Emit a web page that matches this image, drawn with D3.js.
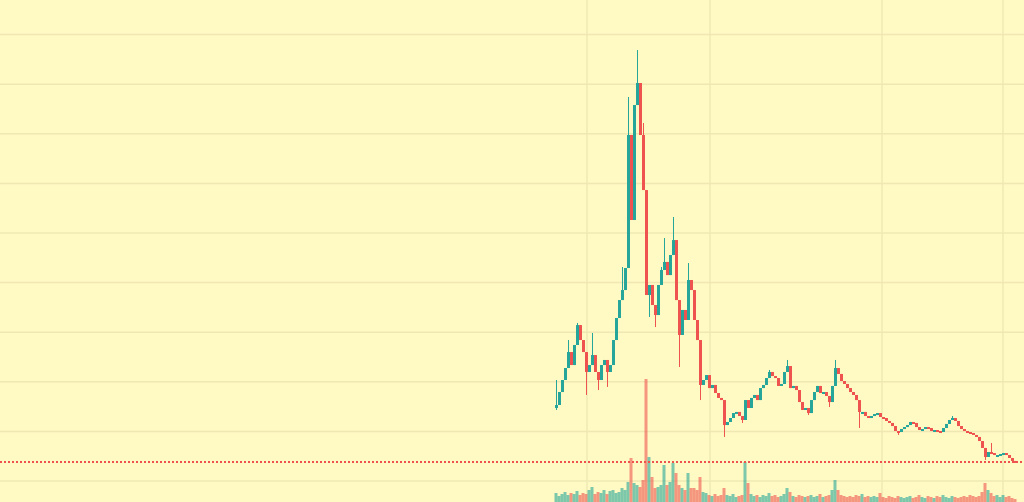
<!DOCTYPE html>
<html>
<head>
<meta charset="utf-8">
<script src="https://cdn.jsdelivr.net/npm/d3@7"></script>
<style>
  html, body { margin: 0; padding: 0; background: #fff9c4; overflow: hidden; }
  #chart { width: 1024px; height: 502px; }
</style>
</head>
<body>
<div id="chart"></div>
<script>
// Daily candles, close prices (open = previous close)
const firstOpen = 0.736;
const closes = [
  0.766, 0.897, 1.018, 1.139, 1.300, 1.169, 1.371, 1.572, 1.421, 1.300,
  1.099, 1.169, 1.270, 1.099, 1.018, 1.169, 1.220, 1.099, 1.169, 1.421,
  1.643, 1.824, 1.925, 2.147, 3.488, 2.631, 3.790, 4.012, 3.488, 2.933,
  1.875, 1.976, 1.774, 1.673, 1.976, 2.127, 2.208, 2.076, 2.278, 2.429,
  1.824, 1.472, 1.724, 1.623, 2.026, 1.925, 1.623, 1.421, 0.968, 1.018,
  1.068, 0.937, 0.968, 0.887, 0.837, 0.816, 0.564, 0.595, 0.635, 0.685,
  0.696, 0.655, 0.615, 0.816, 0.736, 0.837, 0.867, 0.816, 0.937, 0.968,
  1.038, 1.099, 1.058, 1.038, 0.958, 0.978, 1.099, 1.159, 0.937, 0.958,
  0.917, 0.796, 0.716, 0.736, 0.685, 0.816, 0.897, 0.958, 0.887, 0.897,
  0.857, 0.796, 0.958, 1.139, 1.079, 1.008, 0.978, 0.937, 0.897, 0.867,
  0.816, 0.696, 0.696, 0.655, 0.645, 0.655, 0.675, 0.685, 0.645, 0.635,
  0.605, 0.585, 0.554, 0.504, 0.494, 0.524, 0.544, 0.564, 0.595, 0.585,
  0.544, 0.514, 0.524, 0.544, 0.534, 0.504, 0.514, 0.504, 0.494, 0.534,
  0.575, 0.615, 0.635, 0.605, 0.554, 0.524, 0.504, 0.494, 0.484, 0.464,
  0.444, 0.403, 0.333, 0.242, 0.292, 0.282, 0.262, 0.262, 0.272, 0.282,
  0.262, 0.232, 0.202, 0.192
];

// wick extremes that stick out of the body: [index, high, low]
const wicks = [
  [0, 1.018, 0.716], [4, 1.421, null], [7, 1.593, null], [10, null, 0.867],
  [12, 1.492, null], [14, null, 0.917], [17, null, 0.948], [22, 2.157, null],
  [24, 3.871, null], [27, 4.344, null], [29, 3.609, null], [31, null, 1.653],
  [33, null, 1.552], [35, 2.157, null], [36, 2.449, null], [39, 2.661, null],
  [41, null, 1.149], [44, 2.197, null], [48, null, 0.816], [56, null, 0.444],
  [62, null, 0.585], [71, 1.119, null], [77, 1.220, null], [84, null, 0.665],
  [91, null, 0.746], [93, 1.220, null], [101, null, 0.534], [114, null, 0.464],
  [132, 0.655, null], [143, null, 0.212], [145, 0.383, null]
];

// volume (thousands)
const volumes = [
  9, 6, 8, 10, 7, 9, 8, 11, 7, 9, 8, 12,
  15,
  8, 10, 9, 12, 8, 11,
  12, 9, 10, 14, 12,
  20, 44, 19, 17, 15, 22, 123, 45,
  25, 14, 15, 17, 37, 17, 20, 39, 29, 17, 14, 12, 29, 14, 14, 12, 25,
  10, 9, 7, 6, 8, 6, 7,
  14, 7, 6, 8, 5, 6, 7,
  40, 19,
  8, 6, 7, 5, 7, 6, 9, 6, 7, 5, 6, 8,
  14,
  10, 6, 5, 7, 6, 5, 6, 7, 5, 6, 8, 5, 6, 7,
  12, 22, 12,
  7, 6, 5, 6, 5, 7, 6, 8, 5, 6, 5, 6, 5, 9,
  5, 4, 6, 5, 4, 6, 5, 4, 5, 6, 4, 5, 7, 5, 4, 6, 5, 4, 6, 5, 7, 5, 4, 6, 5, 4, 5, 6, 5, 7, 6, 5, 6,
  10, 19, 12, 9,
  6, 7, 5, 7, 5, 6, 4, 3
];

const startDate = new Date(Date.UTC(2021, 3, 1));
const priceTicks = [0, 0.5, 1, 1.5, 2, 2.5, 3, 3.5, 4, 4.5];
const timeTicks = ["2021-04-11T08:00Z", "2021-05-22T08:00Z", "2021-07-18T16:00Z", "2021-08-28T00:00Z"];

const width = 1024, height = 502;
const upColor = "#26a69a", downColor = "#ef5350";

const candles = closes.map((c, i) => {
  const o = i === 0 ? firstOpen : closes[i - 1];
  return { date: d3.utcDay.offset(startDate, i), open: o, close: c,
           high: Math.max(o, c), low: Math.min(o, c), volume: volumes[i] };
});
wicks.forEach(([i, h, l]) => {
  if (h != null) candles[i].high = h;
  if (l != null) candles[i].low = l;
});

const svg = d3.select("#chart").append("svg")
  .attr("width", width)
  .attr("height", height);

svg.append("rect").attr("width", width).attr("height", height).attr("fill", "#fff9c4");

const x = d3.scaleUtc()
  .domain([d3.utcHour.offset(startDate, -185.33 * 24), d3.utcHour.offset(startDate, 156 * 24)])
  .range([0, width]);

const y = d3.scaleLinear().domain([0, 5]).range([481, 481 - 5 * 99.2]);
const yVol = d3.scaleLinear().domain([0, d3.max(volumes)]).range([height, 379]);

// grid
svg.append("g").selectAll("line").data(priceTicks).join("line")
  .attr("x1", 0).attr("x2", width)
  .attr("y1", d => y(d)).attr("y2", d => y(d))
  .attr("stroke", "#efe8b3").attr("stroke-width", 1.5);

svg.append("g").selectAll("line").data(timeTicks.map(t => new Date(t))).join("line")
  .attr("x1", d => x(d)).attr("x2", d => x(d))
  .attr("y1", 0).attr("y2", height)
  .attr("stroke", "#efe8b3").attr("stroke-width", 1.5);

// volume
svg.append("g").selectAll("rect").data(candles).join("rect")
  .attr("x", d => x(d.date) - 1.5)
  .attr("width", 3)
  .attr("y", d => yVol(d.volume))
  .attr("height", d => height - yVol(d.volume))
  .attr("fill", d => d.close >= d.open ? "rgba(38,166,154,0.6)" : "rgba(239,83,80,0.6)");

// candles
const g = svg.append("g");
g.selectAll("line").data(candles).join("line")
  .attr("x1", d => Math.round(x(d.date)) + 0.5).attr("x2", d => Math.round(x(d.date)) + 0.5)
  .attr("y1", d => y(d.high)).attr("y2", d => y(d.low))
  .attr("stroke", d => d.close >= d.open ? upColor : downColor)
  .attr("stroke-width", 1);

g.selectAll("rect").data(candles).join("rect")
  .attr("x", d => Math.round(x(d.date)) - 1)
  .attr("width", 3)
  .attr("y", d => y(Math.max(d.open, d.close)))
  .attr("height", d => Math.max(2, Math.abs(y(d.open) - y(d.close))))
  .attr("fill", d => d.close >= d.open ? upColor : downColor);

// last price line
const last = candles[candles.length - 1];
svg.append("line")
  .attr("x1", 0).attr("x2", width)
  .attr("y1", y(last.close)).attr("y2", y(last.close))
  .attr("stroke", last.close >= last.open ? upColor : downColor)
  .attr("stroke-width", 2)
  .attr("stroke-dasharray", "2,2");
</script>
</body>
</html>
